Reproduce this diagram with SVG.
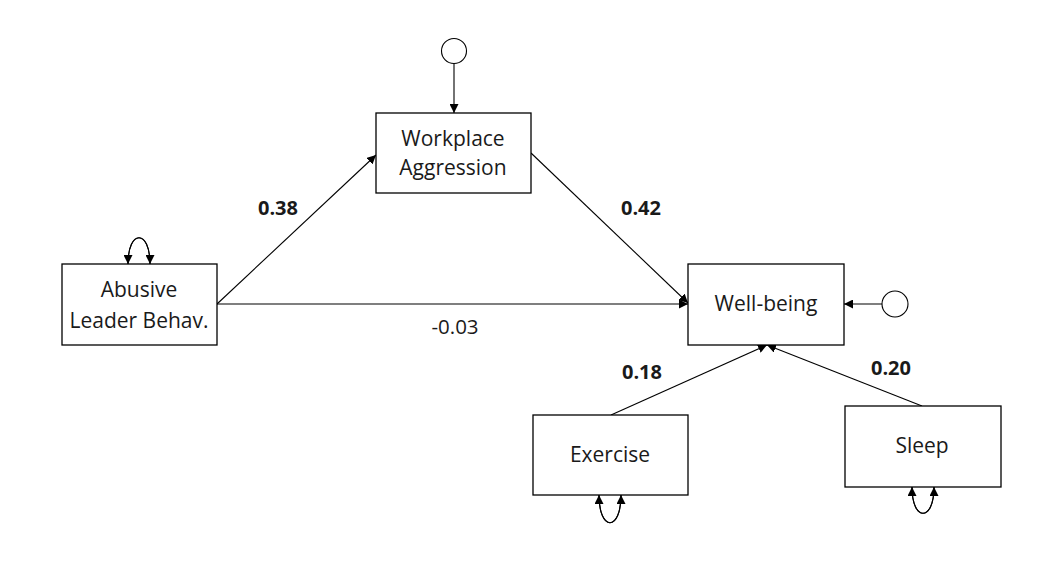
<svg xmlns="http://www.w3.org/2000/svg" width="1055" height="570" viewBox="0 0 1055 570">
<defs>
<marker id="ah" viewBox="0 0 10 10" refX="10" refY="5" markerWidth="9" markerHeight="9" markerUnits="userSpaceOnUse" orient="auto">
<path d="M0,0 L10,5 L0,10 z" fill="#000"/>
</marker>
</defs>
<style>
.box{fill:#fff;stroke:#000;stroke-width:1.3}
.lbl{font-family:"Open Sans","Liberation Sans",sans-serif;font-size:21px;fill:#1a1a1a;text-anchor:middle}
.w{font-family:"Open Sans","Liberation Sans",sans-serif;font-size:20px;font-weight:bold;fill:#1a1a1a;text-anchor:middle}
.n{font-family:"Open Sans","Liberation Sans",sans-serif;font-size:20.5px;fill:#1a1a1a;text-anchor:middle}
.c{fill:none;stroke:#000;stroke-width:1.1}
.circ{fill:#fff;stroke:#000;stroke-width:1.1}
</style>
<rect width="1055" height="570" fill="#fff"/>
<g id="connectors">
<line class="c" x1="217" y1="304" x2="376" y2="155" marker-end="url(#ah)"/>
<line class="c" x1="217" y1="304" x2="688" y2="304" marker-end="url(#ah)"/>
<line class="c" x1="531" y1="153" x2="688" y2="303" marker-end="url(#ah)"/>
<line class="c" x1="611" y1="415" x2="767" y2="345" marker-end="url(#ah)"/>
<line class="c" x1="922" y1="406" x2="767" y2="345" marker-end="url(#ah)"/>
<line class="c" x1="454" y1="63" x2="454" y2="113" marker-end="url(#ah)"/>
<line class="c" x1="882" y1="304" x2="844" y2="304" marker-end="url(#ah)"/>
<path class="c" d="M128,264 C128,229 150,229 150,264" marker-end="url(#ah)"/>
<path class="c" d="M150,264 C150,229 128,229 128,264" marker-end="url(#ah)"/>
<path class="c" d="M599,495 C599,532 621,532 621,495" marker-end="url(#ah)"/>
<path class="c" d="M621,495 C621,532 599,532 599,495" marker-end="url(#ah)"/>
<path class="c" d="M912,487 C912,522 934,522 934,487" marker-end="url(#ah)"/>
<path class="c" d="M934,487 C934,522 912,522 912,487" marker-end="url(#ah)"/>
<text class="w" x="278" y="215">0.38</text>
<text class="w" x="641" y="215">0.42</text>
<text class="n" x="455" y="334">-0.03</text>
<text class="w" x="642" y="379">0.18</text>
<text class="w" x="891" y="375">0.20</text>
</g>
<g id="abusive">
<rect class="box" x="62" y="264" width="155" height="81"/>
<text class="lbl" x="139" y="297">Abusive</text>
<text class="lbl" x="139" y="328">Leader Behav.</text>
</g>
<g id="workplace">
<rect class="box" x="376" y="113" width="155" height="80"/>
<text class="lbl" x="453" y="146">Workplace</text>
<text class="lbl" x="453" y="175">Aggression</text>
</g>
<g id="wellbeing">
<rect class="box" x="688" y="264" width="156" height="81"/>
<text class="lbl" x="766" y="311">Well-being</text>
</g>
<g id="exercise">
<rect class="box" x="533" y="415" width="155" height="80"/>
<text class="lbl" x="610" y="462">Exercise</text>
</g>
<g id="sleep">
<rect class="box" x="845" y="406" width="156" height="81"/>
<text class="lbl" x="922" y="453">Sleep</text>
</g>
<g id="e1">
<circle class="circ" cx="454" cy="51" r="12.5"/>
</g>
<g id="e2">
<circle class="circ" cx="895" cy="304" r="13"/>
</g>
</svg>
